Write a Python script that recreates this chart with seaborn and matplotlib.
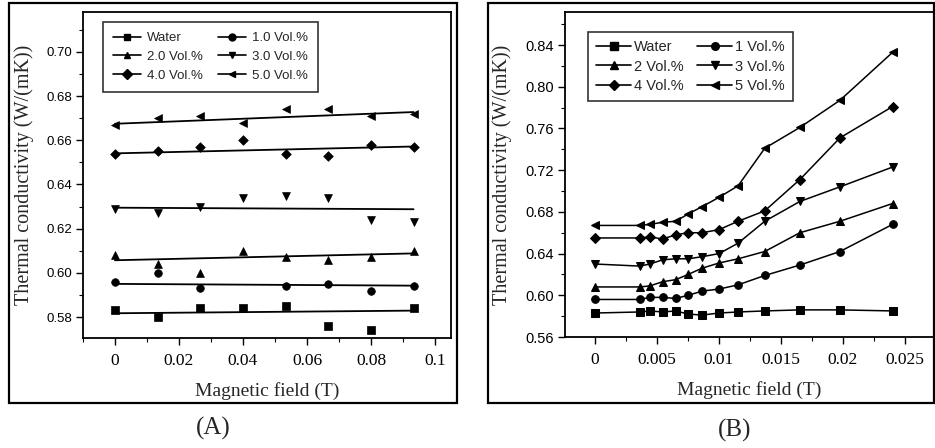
import numpy as np
import pandas as pd
import seaborn as sns
import matplotlib
matplotlib.use("Agg")
import matplotlib.pyplot as plt
from matplotlib.lines import Line2D
from matplotlib.patches import Rectangle
from matplotlib.ticker import MultipleLocator, FixedLocator

# ---------------- data ----------------
series_a = ["Water", "1.0 Vol.%", "2.0 Vol.%", "3.0 Vol.%", "4.0 Vol.%", "5.0 Vol.%"]
series_b = ["Water", "1 Vol.%", "2 Vol.%", "3 Vol.%", "4 Vol.%", "5 Vol.%"]
markers = ["s", "o", "^", "v", "D", "<"]

# Panel A: static measurements over the field
field_a = [0.0, 0.0133, 0.0267, 0.04, 0.0533, 0.0667, 0.08, 0.0933]
water_a = [0.583, 0.580, 0.584, 0.584, 0.585, 0.576, 0.574, 0.584]
vol1_a = [0.596, 0.600, 0.593, np.nan, 0.594, 0.595, 0.592, 0.594]
vol2_a = [0.608, 0.604, 0.600, 0.610, 0.607, 0.606, 0.607, 0.610]
vol3_a = [0.629, 0.627, 0.630, 0.634, 0.635, 0.634, 0.624, 0.623]
vol4_a = [0.654, 0.655, 0.657, 0.660, 0.654, 0.653, 0.658, 0.657]
vol5_a = [0.667, 0.670, 0.671, 0.668, 0.674, 0.674, 0.671, 0.672]
# linear fit lines: value at start and end of the field range
fit_x_a = [0.0, 0.0933]
fit_start_a = [0.5817, 0.5950, 0.6057, 0.6295, 0.6541, 0.6675]
fit_end_a = [0.5829, 0.5942, 0.6088, 0.6288, 0.6572, 0.6728]

# Panel B: measurements over the field
field_b = [0.0, 0.00363, 0.00444, 0.00546, 0.00653, 0.00752, 0.00865,
           0.01002, 0.01155, 0.0137, 0.01653, 0.01976, 0.0240]
water_b = [0.583, 0.584, 0.585, 0.584, 0.585, 0.582, 0.581, 0.583, 0.584, 0.585, 0.586, 0.586, 0.585]
vol1_b = [0.596, 0.596, 0.598, 0.598, 0.597, 0.600, 0.604, 0.606, 0.610, 0.619, 0.629, 0.642, 0.668]
vol2_b = [0.608, 0.608, 0.609, 0.613, 0.615, 0.620, 0.626, 0.631, 0.635, 0.642, 0.660, 0.671, 0.688]
vol3_b = [0.630, 0.628, 0.630, 0.634, 0.635, 0.635, 0.637, 0.640, 0.650, 0.671, 0.690, 0.704, 0.723]
vol4_b = [0.655, 0.655, 0.656, 0.654, 0.658, 0.660, 0.660, 0.663, 0.671, 0.681, 0.711, 0.751, 0.781]
vol5_b = [0.667, 0.667, 0.668, 0.670, 0.671, 0.678, 0.685, 0.694, 0.705, 0.741, 0.761, 0.787, 0.833]

yticks_a = [0.58, 0.60, 0.62, 0.64, 0.66, 0.68, 0.70]
xticks_a = [0, 0.02, 0.04, 0.06, 0.08, 0.1]
xticklabels_a = ["0", "0.02", "0.04", "0.06", "0.08", "0.1"]
yticks_b = [0.56, 0.60, 0.64, 0.68, 0.72, 0.76, 0.80, 0.84]
xticks_b = [0, 0.005, 0.01, 0.015, 0.02, 0.025]
xticklabels_b = ["0", "0.005", "0.01", "0.015", "0.02", "0.025"]

ylabel = "Thermal conductivity (W/(mK))"
xlabel = "Magnetic field (T)"

# ---------------- style ----------------
sns.set_theme(style="ticks")
plt.rcParams["font.family"] = ["Liberation Sans", "DejaVu Sans"]
plt.rcParams["axes.linewidth"] = 1.3
plt.rcParams["xtick.direction"] = "out"
plt.rcParams["ytick.direction"] = "out"

SERIF = ["Liberation Serif", "DejaVu Serif"]
SANS = ["Liberation Sans", "DejaVu Sans"]

fig = plt.figure(figsize=(9.35, 4.48), dpi=100)
W, H = 935, 448


def px_axes(x0, y0, x1, y1):
    return fig.add_axes([x0 / W, 1 - y1 / H, (x1 - x0) / W, (y1 - y0) / H])


def row_order(items, ncol=2):
    # legend fills column by column; reorder so entries read row by row
    rows = [items[i:i + ncol] for i in range(0, len(items), ncol)]
    return [r[c] for c in range(ncol) for r in rows]


# outer frames around each panel
for (x0, y0, x1, y1) in [(9, 3, 457, 403), (488, 3, 934, 403)]:
    fig.patches.append(Rectangle((x0 / W, 1 - y1 / H), (x1 - x0) / W, (y1 - y0) / H,
                                 transform=fig.transFigure, fill=False,
                                 edgecolor="black", linewidth=1.6))

ax_a = px_axes(83, 12, 451, 338)
ax_b = px_axes(565, 12, 934, 337)

# ---------------- panel A ----------------
vals_a = [water_a, vol1_a, vol2_a, vol3_a, vol4_a, vol5_a]
ms_a = {"s": 28, "o": 30, "^": 32, "v": 32, "D": 24, "<": 32}
for name, vals, mk, y0, y1 in zip(series_a, vals_a, markers, fit_start_a, fit_end_a):
    df = pd.DataFrame({"field": field_a, "k": vals})
    sns.scatterplot(data=df, x="field", y="k", marker=mk, s=ms_a[mk], color="black",
                    edgecolor="black", linewidth=0.5, ax=ax_a, legend=False, zorder=3)
    fit = pd.DataFrame({"field": fit_x_a, "k": [y0, y1]})
    sns.lineplot(data=fit, x="field", y="k", color="black", linewidth=1.3, ax=ax_a,
                 legend=False)

ax_a.set_xlim(-0.01, 0.105)
ax_a.set_ylim(0.5705, 0.7181)
ax_a.yaxis.set_major_locator(FixedLocator(yticks_a))
ax_a.yaxis.set_minor_locator(MultipleLocator(0.01))
ax_a.set_yticklabels([f"{v:.2f}" for v in yticks_a])
ax_a.xaxis.set_major_locator(FixedLocator(xticks_a))
ax_a.xaxis.set_minor_locator(MultipleLocator(0.01))
ax_a.set_xticklabels(xticklabels_a)

handles_a = [Line2D([0], [0], color="black", marker=m, markersize=5, linewidth=1.2)
             for m in markers]
leg_a = ax_a.legend(row_order(handles_a), row_order(series_a), ncol=2, loc="upper left",
                    bbox_to_anchor=(0.0543, 0.9693), borderaxespad=0, frameon=True,
                    fancybox=False, edgecolor="black", handlelength=2.15,
                    handletextpad=0.45, columnspacing=1.1, labelspacing=0.5,
                    borderpad=0.75, prop={"family": SANS, "size": 9.5})
leg_a.get_frame().set_linewidth(1.2)

# ---------------- panel B ----------------
vals_b = [water_b, vol1_b, vol2_b, vol3_b, vol4_b, vol5_b]
for name, vals, mk in zip(series_b, vals_b, markers):
    df = pd.DataFrame({"field": field_b, "k": vals})
    sns.lineplot(data=df, x="field", y="k", marker=mk, markersize=5.5 if mk != "D" else 4.8,
                 color="black", markeredgecolor="black", linewidth=1.1, ax=ax_b,
                 legend=False)

ax_b.set_xlim(-0.0024, 0.02734)
ax_b.set_ylim(0.56, 0.8717)
ax_b.yaxis.set_major_locator(FixedLocator(yticks_b))
ax_b.yaxis.set_minor_locator(MultipleLocator(0.02))
ax_b.set_yticklabels([f"{v:.2f}" for v in yticks_b])
ax_b.xaxis.set_major_locator(FixedLocator(xticks_b))
ax_b.xaxis.set_minor_locator(MultipleLocator(0.0025))
ax_b.set_xticklabels(xticklabels_b)

handles_b = [Line2D([0], [0], color="black", marker=m, markersize=5.5, linewidth=1.2)
             for m in markers]
leg_b = ax_b.legend(row_order(handles_b), row_order(series_b), ncol=2, loc="upper left",
                    bbox_to_anchor=(0.0623, 0.9385), borderaxespad=0, frameon=True,
                    fancybox=False, edgecolor="black", handlelength=2.4,
                    handletextpad=0.2, columnspacing=0.95, labelspacing=0.38,
                    borderpad=0.55, prop={"family": SANS, "size": 10.5})
leg_b.get_frame().set_linewidth(1.2)

# ---------------- shared axis styling ----------------
for ax, ysize in ((ax_a, 9.5), (ax_b, 10.5)):
    for s in ax.spines.values():
        s.set_visible(True)
        s.set_linewidth(1.3)
        s.set_color("black")
    ax.tick_params(which="major", length=5, width=1.0, colors="black")
    ax.tick_params(which="minor", length=3, width=0.8, colors="black")
    ax.tick_params(axis="y", labelsize=ysize, pad=3)
    ax.tick_params(axis="x", labelsize=12.5, pad=6)
    for lab in ax.get_yticklabels():
        lab.set_family(SANS)
    for lab in ax.get_xticklabels():
        lab.set_family(SERIF)
    ax.set_xlabel(xlabel, family=SERIF, fontsize=14, labelpad=9)
    ax.set_ylabel(ylabel, family=SERIF, fontsize=14.5)

ax_a.yaxis.set_label_coords(-0.133, 0.5)
ax_b.yaxis.set_label_coords(-0.143, 0.5)

fig.text(213 / W, 1 - 428 / H, "(A)", family=SERIF, fontsize=18, ha="center", va="center")
fig.text(735 / W, 1 - 430 / H, "(B)", family=SERIF, fontsize=18, ha="center", va="center")

fig.savefig("out.png", dpi=100, facecolor="white")
